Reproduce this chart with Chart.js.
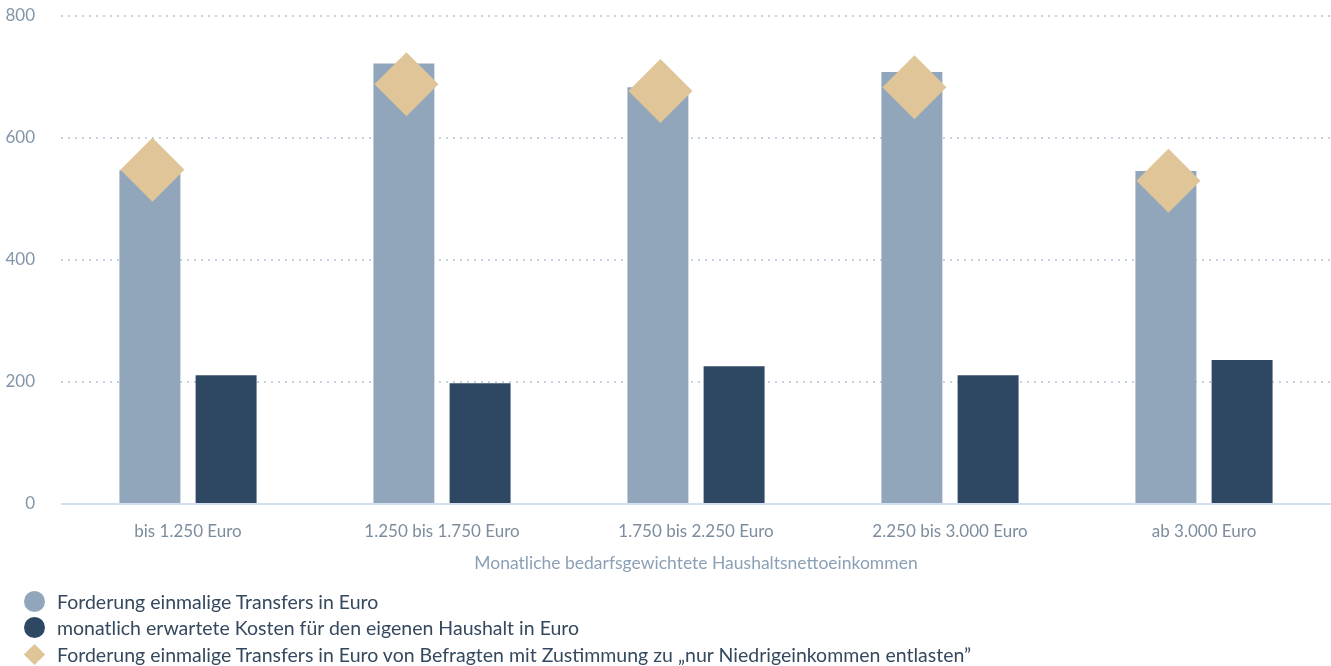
<!DOCTYPE html>
<html>
<head>
<meta charset="utf-8">
<script src="https://cdn.jsdelivr.net/npm/chart.js@4.4.1/dist/chart.umd.min.js"></script>
<style>
  html, body { margin: 0; padding: 0; background: #ffffff; }
  #wrap { position: relative; width: 1331px; height: 666px; overflow: hidden; font-family: Lato, "Noto Sans", sans-serif; }
  #c { position: absolute; left: 0; top: 0; }
  #legend { position: absolute; left: 24px; top: 588px; margin: 0; padding: 0; list-style: none; }
  #legend li { display: flex; align-items: center; height: 26.5px; font-size: 19.5px; color: #34495e; white-space: nowrap; }
  #legend .mk { width: 21px; height: 21px; margin-right: 12px; flex: none; display: flex; align-items: center; justify-content: center; }
  #legend .circle { width: 21px; height: 21px; border-radius: 50%; }
  #legend .diamond { width: 15px; height: 15px; transform: rotate(45deg); }
</style>
</head>
<body>
<div id="wrap">
  <canvas id="c" width="1331" height="666"></canvas>
  <ul id="legend"></ul>
</div>
<script>
const categories = ["bis 1.250 Euro", "1.250 bis 1.750 Euro", "1.750 bis 2.250 Euro", "2.250 bis 3.000 Euro", "ab 3.000 Euro"];
const transferValues = [547, 722, 683, 708, 546];
const monthlyCostValues = [211, 198, 226, 211, 236];
const lowIncomeTransferValues = [548, 688, 677, 683, 530];
const yTicks = [0, 200, 400, 600, 800];
const seriesNames = [
  "Forderung einmalige Transfers in Euro",
  "monatlich erwartete Kosten für den eigenen Haushalt in Euro",
  "Forderung einmalige Transfers in Euro von Befragten mit Zustimmung zu \u201Enur Niedrigeinkommen entlasten\u201D"
];
const xTitle = "Monatliche bedarfsgewichtete Haushaltsnettoeinkommen";

const COL_LIGHT = "#91a6ba";
const COL_DARK = "#2e4863";
const COL_GOLD = "#dfc597";
const FONT = "Lato, 'Noto Sans', sans-serif";

// Diamond marker sits over the first bar of each group
const diamondShift = -0.14;

const ctx = document.getElementById('c').getContext('2d');
const chart = new Chart(ctx, {
  type: 'bar',
  data: {
    datasets: [
      {
        label: seriesNames[0],
        data: transferValues.map((v, i) => ({ x: i, y: v })),
        backgroundColor: COL_LIGHT,
        categoryPercentage: 0.6,
        barPercentage: 0.8,
        order: 2
      },
      {
        label: seriesNames[1],
        data: monthlyCostValues.map((v, i) => ({ x: i, y: v })),
        backgroundColor: COL_DARK,
        categoryPercentage: 0.6,
        barPercentage: 0.8,
        order: 2
      },
      {
        type: 'line',
        label: seriesNames[2],
        data: lowIncomeTransferValues.map((v, i) => ({ x: i + diamondShift, y: v })),
        showLine: false,
        pointStyle: 'rectRot',
        pointRadius: 32,
        pointHoverRadius: 32,
        pointBackgroundColor: COL_GOLD,
        pointBorderColor: COL_GOLD,
        pointBorderWidth: 0,
        backgroundColor: COL_GOLD,
        order: 0
      }
    ]
  },
  options: {
    responsive: false,
    animation: false,
    layout: { autoPadding: false, padding: { top: 16, right: 0, left: 0, bottom: 92 } },
    plugins: {
      legend: { display: false },
      tooltip: { enabled: false }
    },
    scales: {
      x: {
        type: 'linear',
        offset: false,
        min: -0.5,
        max: categories.length - 0.5,
        afterBuildTicks: (scale) => { scale.ticks = categories.map((_, i) => ({ value: i })); },
        afterFit: (scale) => { scale.height = 70; },
        grid: { display: false, drawTicks: false, offset: false },
        border: { display: false },
        ticks: {
          autoSkip: false,
          maxRotation: 0,
          callback: (v) => categories[v],
          font: { family: FONT, size: 17 },
          color: '#7d8d9e',
          padding: 17
        },
        title: {
          display: true,
          text: xTitle,
          font: { family: FONT, size: 17.5 },
          color: '#8ba0b5',
          padding: { top: 0, bottom: 0 }
        }
      },
      y: {
        min: yTicks[0],
        max: yTicks[yTicks.length - 1],
        afterBuildTicks: (scale) => { scale.ticks = yTicks.map(v => ({ value: v })); },
        afterFit: (scale) => { scale.width = 61; },
        grid: {
          drawTicks: true,
          tickLength: 26,
          tickWidth: 0,
          tickColor: 'rgba(0,0,0,0)',
          lineWidth: 2,
          color: (c) => (c.tick && c.tick.value === 0) ? '#d3def0' : '#c6d2df'
        },
        border: {
          display: false,
          dash: (c) => (c.tick && c.tick.value === 0) ? [] : [2, 5]
        },
        ticks: { font: { family: FONT, size: 17 }, color: '#8395a8', padding: 0 }
      }
    }
  }
});

// HTML legend built from the chart's datasets
const legendEl = document.getElementById('legend');
chart.data.datasets.forEach((ds) => {
  const li = document.createElement('li');
  const mk = document.createElement('span');
  mk.className = 'mk';
  const inner = document.createElement('span');
  inner.className = ds.pointStyle === 'rectRot' ? 'diamond' : 'circle';
  inner.style.background = ds.pointStyle === 'rectRot' ? ds.pointBackgroundColor : ds.backgroundColor;
  mk.appendChild(inner);
  const txt = document.createElement('span');
  txt.textContent = ds.label;
  li.appendChild(mk);
  li.appendChild(txt);
  legendEl.appendChild(li);
});
</script>
</body>
</html>
